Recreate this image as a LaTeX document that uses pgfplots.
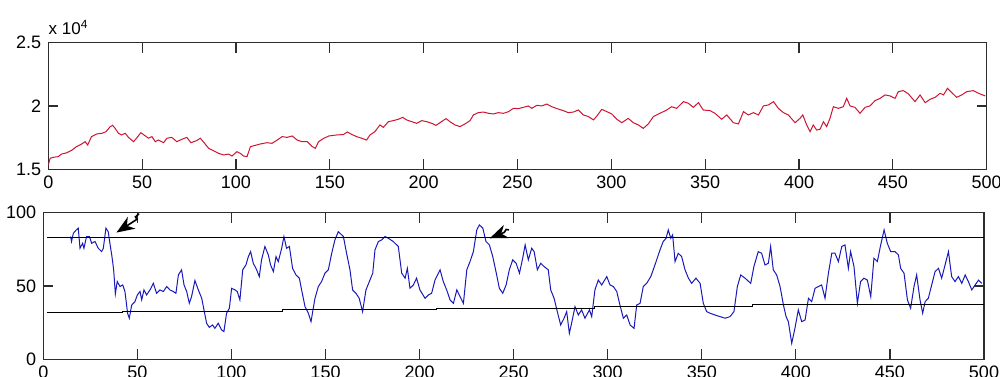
\documentclass[border=0pt]{standalone}
\usepackage{fontspec}
\setmainfont{Liberation Sans}
\usepackage{pgfplots}
\pgfplotsset{compat=1.18}
\usetikzlibrary{arrows.meta}
\definecolor{lred}{RGB}{205,20,50}
\definecolor{lblue}{RGB}{25,25,185}
\definecolor{axgray}{RGB}{45,45,45}
\pgfplotsset{mstyle/.style={scale only axis, anchor=south west,
  clip mode=individual,
  axis line style={axgray, line width=0.6pt},
  tick style={axgray, line width=0.6pt},
  tick align=inside, major tick length=5pt,
  xtick pos=both, ytick pos=both,
  scaled x ticks=false, scaled y ticks=false,
  xmin=0, xmax=500, xtick={0,50,...,500},
  ticklabel style={font=\fontsize{9}{10}\selectfont},
  /pgf/number format/assume math mode=true}}
\begin{document}
\begin{tikzpicture}
\useasboundingbox (0,0) rectangle (500pt,188pt);
\begin{axis}[mstyle, at={(24.15pt,103.35pt)}, width=469.2pt, height=63.35pt,
  ymin=15000, ymax=25000, ytick={15000,20000,25000}, yticklabels={1.5,2,2.5}]
\addplot[lred, line width=0.5pt] coordinates {
(0,15340)(1,15870)(2.7,15950)(5.3,16000)(7,16200)(9.8,16300)(12.5,16500)(15,16790)(17.8,17000)(19.6,17180)(21,16920)(23,17580)(25.8,17790)(28.5,17840)(30.8,17970)(33,18370)(34.3,18470)(35.6,18230)(37.4,17840)(39,17710)(41,17840)(42.7,17520)(45.4,17180)(47,17450)(49.3,17890)(51,17710)(53.4,17450)(55.2,17580)(57,17180)(58.7,17310)(61.4,17100)(63.2,17450)(65.8,17520)(68.5,17180)(71.2,17370)(73.8,17520)(76,17100)(79,17260)(81,17450)(83,17100)(85.4,16660)(88,16470)(90.7,16260)(93.4,16130)(96,16200)(97.9,16050)(100.5,16390)(102.3,16260)(104,16050)(105.9,16000)(107.7,16790)(110.3,16890)(113,17000)(116.5,17100)(119.2,17050)(122,17310)(124.6,17580)(127.2,17520)(130,17630)(132.6,17310)(135.2,17180)(138,17180)(140.6,16790)(142.3,16660)(144,17180)(146.8,17450)(149.5,17630)
(153.6,17710)(157.2,17740)(159.3,17950)(161.6,17760)(164.3,17580)(167,17450)(169.6,17310)(171.4,17710)(174,17970)(176.7,18500)(178.5,18310)(181.2,18760)(183.8,18840)(186.5,18950)(188.8,19100)(190.9,18900)(193.6,18760)(196.3,18630)(199,18840)(201.6,18760)(204.3,18630)(206.6,18470)(208.7,18680)(211.9,19000)(214,18760)(216.7,18500)(219.4,18370)(222,18580)(224.7,18840)(226.5,19290)(229.1,19470)(231.8,19520)(234.5,19420)(237.1,19370)(239.8,19470)(242.5,19420)(245.2,19550)(247.8,19810)(250.5,19790)(253.1,19890)(255.8,20000)(257.6,19810)(260.3,20050)(262.9,20000)(265.6,20150)(268.3,19940)(271,19790)(274.4,19630)(277.1,19470)(279.8,19520)(282.4,19680)(285.1,19290)(287.8,19160)(290.5,18900)(292.3,19210)(294.9,19730)(297.6,19550)(300.2,19370)(302.9,18950)(305.6,18680)(309,19020)(311.7,18680)(314.4,18500)(317,18230)(319.7,18580)(322.4,19160)(325.9,19420)
(329.5,19680)(332.1,19940)(334.8,19810)(338.4,20340)(341,20210)(343.7,19890)(346.4,20260)(349,19680)(352.6,19630)(355.2,19420)(358.8,18950)(361.5,19290)(365,18680)(367.7,18580)(370.4,19550)(373,19290)(375.7,19470)(378.4,19290)(381,20000)(383.7,20080)(386.4,20340)(389,19810)(391.7,19470)(394.3,19290)(397.9,18680)(400.5,19020)(402,19290)(404.1,18500)(405.9,17970)(407.6,18500)(409.4,18100)(411.2,18160)(413,18760)(414.7,18370)(416.5,19020)(418.3,19940)(421,19810)(423.6,19940)(425.4,20600)(427.2,20000)(429.8,19890)(432.5,19420)(435.2,19890)(437.8,20000)(440.5,20420)(443.2,20600)(445.8,20870)(448.5,20790)(451.2,20600)(452.9,21130)(455.6,21210)(458.3,20950)(461.8,20340)(464.5,20870)(467.2,20260)(469.8,20520)(472.5,20680)(475.2,21000)(477,20870)(479.1,21390)(481.4,21050)(484,20680)(486.7,20870)(489.4,21130)(492.9,21210)(495.6,21000)(499.2,20790)};
\node[anchor=base west, inner sep=0pt, yshift=4pt, font=\fontsize{8.5}{9}\selectfont] at (rel axis cs:0,1) {x 10\textsuperscript{4}};
\end{axis}
\begin{axis}[mstyle, at={(21.65pt,8.35pt)}, width=470.35pt, height=73.35pt,
  ymin=0, ymax=100, ytick={0,50,100}]
\addplot[lblue, line width=0.5pt] coordinates {
(14.5,83.7)(15,80.3)(16,86)(17.4,88)(18.6,89.4)(19.5,75.7)(20.9,79.1)(21.6,75.7)(23,83.7)(24.5,83.7)(25.7,79.1)(27.5,80.3)(29.2,75.7)(31,73.4)(31.9,75.7)(33.3,89.4)(34.5,87)(35.4,79.1)(36.5,70)(37.4,61)(38.3,44.6)(39.3,53)(40.8,49.6)(42.2,50.7)(43.4,46.2)(44.8,31.4)(45.7,28)(47,37)(48.7,39.3)(50,43.9)(51.4,46.2)(52.3,40.5)(53.5,47.3)(54.9,43.9)(56.7,47.3)(58.5,51.8)(60.2,45)(62,47.3)(63.8,46.2)(65.6,49.6)(67.3,47.3)(69.1,46.2)(70.5,45)(71.8,57.5)(73.5,61)(74.8,50.7)(76.2,46.2)(77.6,38.2)(78.8,42.7)(80.6,53.7)(82.4,47.3)(84.2,41.6)(85.4,33.7)(86.8,24.6)(88.2,21.8)(90,23.4)(91.2,21.1)(93,24.6)(94.8,20)(96,18.9)(97.4,31.4)(98.9,34.8)(100.1,48.4)(101.9,47.3)(103.1,46.2)(104.5,40.5)(106,61)(107.7,64.3)(109,70)(110.2,73.4)(111.6,65.5)(113.4,61)(114.8,56.4)(116,67.8)(117.8,76.9)(119.6,71.2)(120.8,64.3)(122.3,59.8)(123.7,70)(124.9,66.6)(126.7,75.7)(127.9,83.7)(129.3,75.7)(130.8,76.9)(132.5,62)(134.3,57.5)(136.1,55.3)(137.3,47.3)(139.1,35.9)(140.9,31.4)(142.3,25.7)(144.4,41.6)(146.2,49.6)(147.9,53)(149.7,58.7)(151.5,61)(153.3,72.3)(155,81.4)(156.8,87)
(159.5,83.7)(161.2,72.3)(163,61)(164.4,47.3)(166.2,45)(167.9,41.6)(169.7,32.5)(171.5,47.3)(173.3,53)(175.1,58.7)(176.3,74.6)(178.1,80.3)(179.9,81.4)(181.6,83.7)(183.4,82.5)(186,80.3)(188.7,76.9)(190.5,58.7)(192.3,55.3)(193.5,62)(194.9,48.4)(196.7,50.7)(198.4,55.3)(200.2,47.3)(202.9,41.6)(204.7,43.9)(206.4,45)(208.2,54)(210.9,61)(212.6,53)(214.4,47.3)(216.2,40.5)(218,38.2)(219.8,47.3)(221.5,42.7)(223.3,38.2)(225.1,61)(226.8,66.6)(228.6,73.4)(230.4,88.2)(231.8,91.6)(233.6,89.4)(235.3,80.3)(237.1,78)(238.9,70)(240.6,59.8)(242.4,48.4)(244.2,45)(246,50.7)(247.7,61)(249.5,67.8)(251.3,65.5)(253.1,58.7)(254.8,68.9)(256.1,78)(257.8,67.8)(259.6,75.7)(260.9,73.4)(262.6,61)(264.4,65.5)(266.2,63.2)(268.4,61)(269.7,47.3)(271.5,41.6)(273.2,32.5)(275,23.4)(276.8,28)(278.2,32.5)(279.6,17.7)(280.8,24.6)(282.6,35.9)(284.4,30.2)(286.1,33.7)(287.9,28)(290.3,33.7)(291.5,29.1)(293.2,47.3)(295,54)(296.8,50.7)(299.5,56.4)(301.2,50.7)(303,49.6)(304.8,46.2)(306.5,37)(308.3,28)(310.1,30.2)(311.9,23.4)(314,21.1)(315.4,37)(317.2,38.2)(318.9,49.6)(320.7,51.8)(322.9,56.4)(325.1,64.3)(327.8,74.6)(329.5,80.3)
(331,82.5)(332.2,88.2)(333.5,82.5)(334.5,84.8)(335.8,66.6)(337.5,72.3)(339.3,70)(341.1,61)(342.9,55.3)(344.6,51.8)(346.9,55.3)(349.1,51.8)(350.8,38.2)(352.6,32.5)(354.4,31.4)(357,30.2)(359.7,29.1)(362.4,28)(365,29.1)(367.1,32.5)(368.9,49.6)(370.7,57.5)(373,55.3)(376,51.8)(377.7,63.2)(380,73.4)(381.8,72.3)(383.6,64.3)(385.4,65.5)(386.6,76.9)(388,61)(389.8,57.5)(391.6,49.6)(393.4,37)(394.8,29.1)(396,25.7)(397.8,10.9)(399.5,21.1)(401.3,33.7)(403.1,25.7)(404.9,26.8)(406.7,41.6)(408.4,39.3)(410.2,48.4)(412,49.6)(413.7,50.7)(415.5,41.6)(417.3,58.7)(419.1,72.3)(420.8,72.3)(422.6,66.6)(424.4,76.9)(426.1,78)(427.9,62)(429.1,73.4)(430.9,63.2)(432.7,38.2)(434.4,53)(436.2,55.3)(438,54)(439.8,42.7)(441.5,68.9)(443.3,66.6)(445.1,78)(446.9,88.2)(448.6,79.1)(450.4,73.4)(452.7,73.4)(454.5,71.2)(455.7,62)(457.5,58.7)(459.3,40.5)(461,34.8)(462.8,49.6)(464.2,57.5)(466,40.5)(467.4,31.4)(468.7,39.3)(470.4,41.6)(472.2,50.7)(474,59.8)(475.8,62)(477.5,55.3)(479.3,64.3)(481.1,73.4)(482.8,56.4)(484.6,53)(486.4,56.4)(488.2,51.8)(490,57.5)(491.7,53)(493.5,47.3)(495.3,50.7)(497.1,54)(498.8,51.8)};
\addplot[black, line width=0.5pt, const plot] coordinates {(2,31.8)(42,32.7)(127,34.1)(209,34.8)(293,35.9)(377,37.1)(500,37.1)};
\addplot[black, line width=0.5pt] coordinates {(2,83)(500,83)};
\draw[black, line width=0.8pt, {Stealth[length=9pt,width=7pt,inset=2.8pt]}-] (axis cs:38.9,86.4) -- (axis cs:48.4,94.3) -- (axis cs:49.8,95.4) -- (axis cs:49,97.1) -- (axis cs:50.9,99.2);
\draw[black, line width=0.8pt, {Stealth[length=9pt,width=7pt,inset=2.8pt]}-] (axis cs:237.3,82.5) -- (axis cs:245,86.5) -- (axis cs:246,88.5) -- (axis cs:247.5,88.2);
\end{axis}
\end{tikzpicture}
\end{document}
